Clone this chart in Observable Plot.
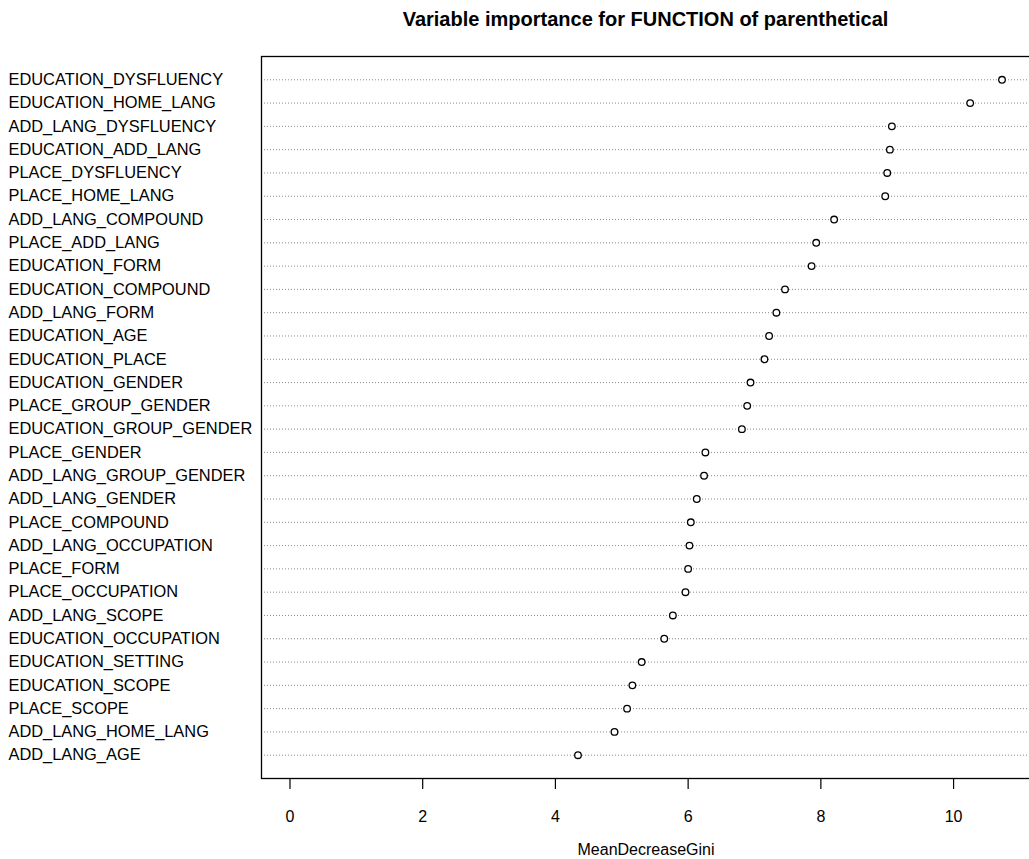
<!DOCTYPE html>
<html>
<head>
<meta charset="utf-8">
<script src="https://cdn.jsdelivr.net/npm/d3@7"></script>
<script src="https://cdn.jsdelivr.net/npm/@observablehq/plot@0.6"></script>
<style>
  html, body { margin: 0; padding: 0; background: #fff; overflow: hidden; }
  #wrap { width: 1030px; font-family: "Liberation Sans", Arial, Helvetica, sans-serif; }
  #title { height: 40px; margin-left: 261px; width: 769px; text-align: center;
           font-weight: bold; font-size: 20px; line-height: 24px; padding-top: 7px; box-sizing: border-box; color: #000; }
  svg { display: block; }
</style>
</head>
<body>
<div id="wrap">
  <div id="title">Variable importance for FUNCTION of parenthetical</div>
  <div id="chart"></div>
</div>
<script>
const variables = [
  "EDUCATION_DYSFLUENCY", "EDUCATION_HOME_LANG", "ADD_LANG_DYSFLUENCY", "EDUCATION_ADD_LANG",
  "PLACE_DYSFLUENCY", "PLACE_HOME_LANG", "ADD_LANG_COMPOUND", "PLACE_ADD_LANG",
  "EDUCATION_FORM", "EDUCATION_COMPOUND", "ADD_LANG_FORM", "EDUCATION_AGE",
  "EDUCATION_PLACE", "EDUCATION_GENDER", "PLACE_GROUP_GENDER", "EDUCATION_GROUP_GENDER",
  "PLACE_GENDER", "ADD_LANG_GROUP_GENDER", "ADD_LANG_GENDER", "PLACE_COMPOUND",
  "ADD_LANG_OCCUPATION", "PLACE_FORM", "PLACE_OCCUPATION", "ADD_LANG_SCOPE",
  "EDUCATION_OCCUPATION", "EDUCATION_SETTING", "EDUCATION_SCOPE", "PLACE_SCOPE",
  "ADD_LANG_HOME_LANG", "ADD_LANG_AGE"
];
const meanDecreaseGini = [
  10.73, 10.25, 9.07, 9.04,
  9.00, 8.97, 8.20, 7.93,
  7.86, 7.46, 7.33, 7.22,
  7.15, 6.94, 6.89, 6.81,
  6.26, 6.24, 6.13, 6.04,
  6.02, 6.00, 5.96, 5.77,
  5.64, 5.30, 5.16, 5.08,
  4.89, 4.34
];
const xTicks = [0, 2, 4, 6, 8, 10];
const xLabel = "MeanDecreaseGini";

const data = variables.map((v, i) => ({name: v, value: meanDecreaseGini[i]}));
const maxV = d3.max(meanDecreaseGini);
const ext = 0.04 * maxV;

const font = "'Liberation Sans', Arial, Helvetica, sans-serif";

const chart = Plot.plot({
  width: 1030,
  height: 819,
  marginTop: 16,
  marginBottom: 81,
  marginLeft: 261,
  marginRight: 0,
  style: {fontFamily: font, fontSize: "16px", color: "#000", background: "#fff", overflow: "visible"},
  x: {domain: [0 - ext, maxV + ext], ticks: xTicks, label: null},
  y: {type: "point", domain: variables, padding: 1, round: false, axis: null},
  marks: [
    Plot.ruleY(data, {y: "name", stroke: "#8a8a8a", strokeWidth: 1, strokeDasharray: "1,2"}),
    Plot.dot(data, {x: "value", y: "name", r: 3.3, stroke: "#000", strokeWidth: 1.3, fill: "#fff"}),
    Plot.text(data, {y: "name", text: "name", frameAnchor: "left", textAnchor: "start", dx: -253,
                     lineAnchor: "middle", fontSize: 16.4, fill: "#000"}),
    Plot.axisX(xTicks, {tickSize: 11, tickPadding: 21, fontSize: 16, stroke: "#000", strokeWidth: 1.2, label: null}),
    Plot.text([xLabel], {text: d => d, frameAnchor: "bottom", lineAnchor: "middle", dy: 71, fontSize: 16, fill: "#000"}),
    Plot.frame({stroke: "#000", strokeWidth: 1.3})
  ]
});
document.getElementById("chart").appendChild(chart);
</script>
</body>
</html>
